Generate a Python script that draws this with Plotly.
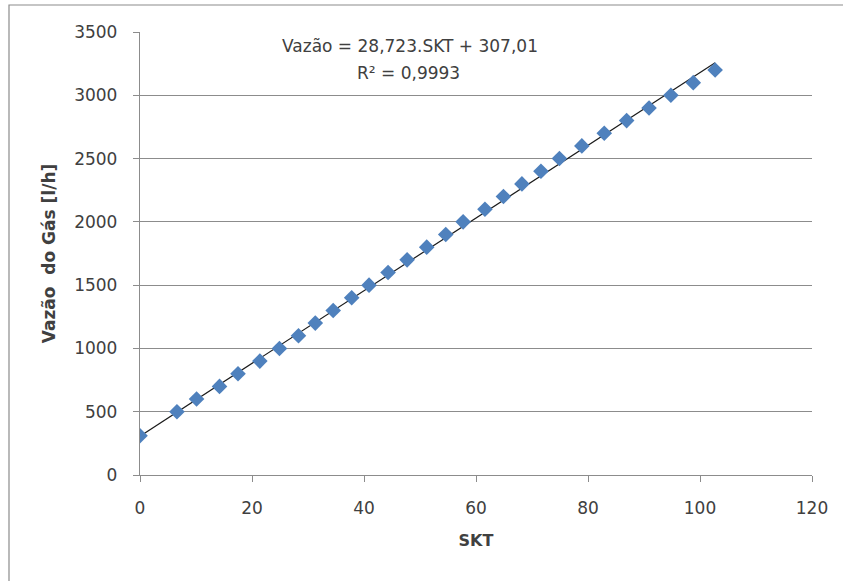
import plotly.graph_objects as go

# Gas flow readings against the SKT scale
skt = [0, 6.6, 10.1, 14.2, 17.5, 21.4, 24.9, 28.3, 31.3, 34.5, 37.8, 40.9,
       44.3, 47.7, 51.2, 54.6, 57.7, 61.6, 64.9, 68.2, 71.6, 74.9, 78.9,
       82.9, 86.9, 90.9, 94.8, 98.8, 102.7]
vazao = [310, 500, 600, 700, 800, 900, 1000, 1100, 1200, 1300, 1400, 1500,
         1600, 1700, 1800, 1900, 2000, 2100, 2200, 2300, 2400, 2500, 2600,
         2700, 2800, 2900, 3000, 3100, 3200]

# Linear trend line coefficients
slope = 28.723
intercept = 307.01
r2 = "0,9993"

x_ticks = [0, 20, 40, 60, 80, 100, 120]
y_ticks = [0, 500, 1000, 1500, 2000, 2500, 3000, 3500]

FONT = "DejaVu Sans"
TXT = "#404040"
GRID = "#8c8c8c"
FS = 17

trend_x = [0, max(skt)]
trend_y = [slope * v + intercept for v in trend_x]

fig = go.Figure()
fig.add_trace(go.Scatter(
    x=trend_x, y=trend_y, mode="lines",
    line=dict(color="#1a1a1a", width=1.2),
    hoverinfo="skip", showlegend=False,
))
fig.add_trace(go.Scatter(
    x=skt, y=vazao, mode="markers",
    marker=dict(symbol="diamond", size=12, color="#4f81bd",
                line=dict(width=0)),
    showlegend=False,
))

W, H = 843, 581
ml, mr, mt, mb = 140, 31, 32, 106
pw, ph = W - ml - mr, H - mt - mb

fig.update_layout(
    width=W, height=H,
    margin=dict(l=ml, r=mr, t=mt, b=mb),
    paper_bgcolor="white", plot_bgcolor="white",
    font=dict(family=FONT, size=FS, color=TXT),
    xaxis=dict(
        range=[0, 120], tickvals=x_ticks, ticktext=[str(v) for v in x_ticks],
        showgrid=False, zeroline=False,
        showline=True, linecolor=GRID, linewidth=1.3,
        ticks="outside", ticklen=6, tickcolor=GRID, tickwidth=1.3,
        ticklabelstandoff=11,
        tickfont=dict(family=FONT, size=FS, color=TXT),
        title=dict(text="<b>SKT</b>", standoff=18,
                   font=dict(family=FONT, size=16, color=TXT)),
    ),
    yaxis=dict(
        range=[0, 3500], tickvals=y_ticks, ticktext=[str(v) for v in y_ticks],
        showgrid=True, gridcolor=GRID, gridwidth=1.3, zeroline=False,
        showline=True, linecolor=GRID, linewidth=1.3,
        ticks="outside", ticklen=6, tickcolor=GRID, tickwidth=1.3,
        ticklabelstandoff=12,
        tickfont=dict(family=FONT, size=FS, color=TXT),
        title=dict(text="<b>Vazão  do Gás [l/h]</b>", standoff=14,
                   font=dict(family=FONT, size=17, color=TXT)),
    ),
)

# Regression equation and coefficient of determination
fig.add_annotation(
    xref="paper", yref="paper", x=(410 - ml) / pw, y=(H - mb - 46) / ph,
    text=f"Vazão = {str(slope).replace('.', ',')}.SKT + {str(intercept).replace('.', ',')}",
    showarrow=False, xanchor="center", yanchor="middle",
    font=dict(family=FONT, size=FS, color=TXT),
)
fig.add_annotation(
    xref="paper", yref="paper", x=(408 - ml) / pw, y=(H - mb - 73) / ph,
    text=f"R² = {r2}",
    showarrow=False, xanchor="center", yanchor="middle",
    font=dict(family=FONT, size=FS, color=TXT),
)

# Chart frame (left and top edges visible)
fig.add_shape(
    type="rect", xref="paper", yref="paper", layer="below",
    x0=(9 - ml) / pw, x1=(W + 20 - ml) / pw,
    y0=(H - mb - (H + 20)) / ph, y1=(H - mb - 5) / ph,
    line=dict(color="#8c8c8c", width=1.2), fillcolor="rgba(0,0,0,0)",
)

fig.write_html("out.html")
